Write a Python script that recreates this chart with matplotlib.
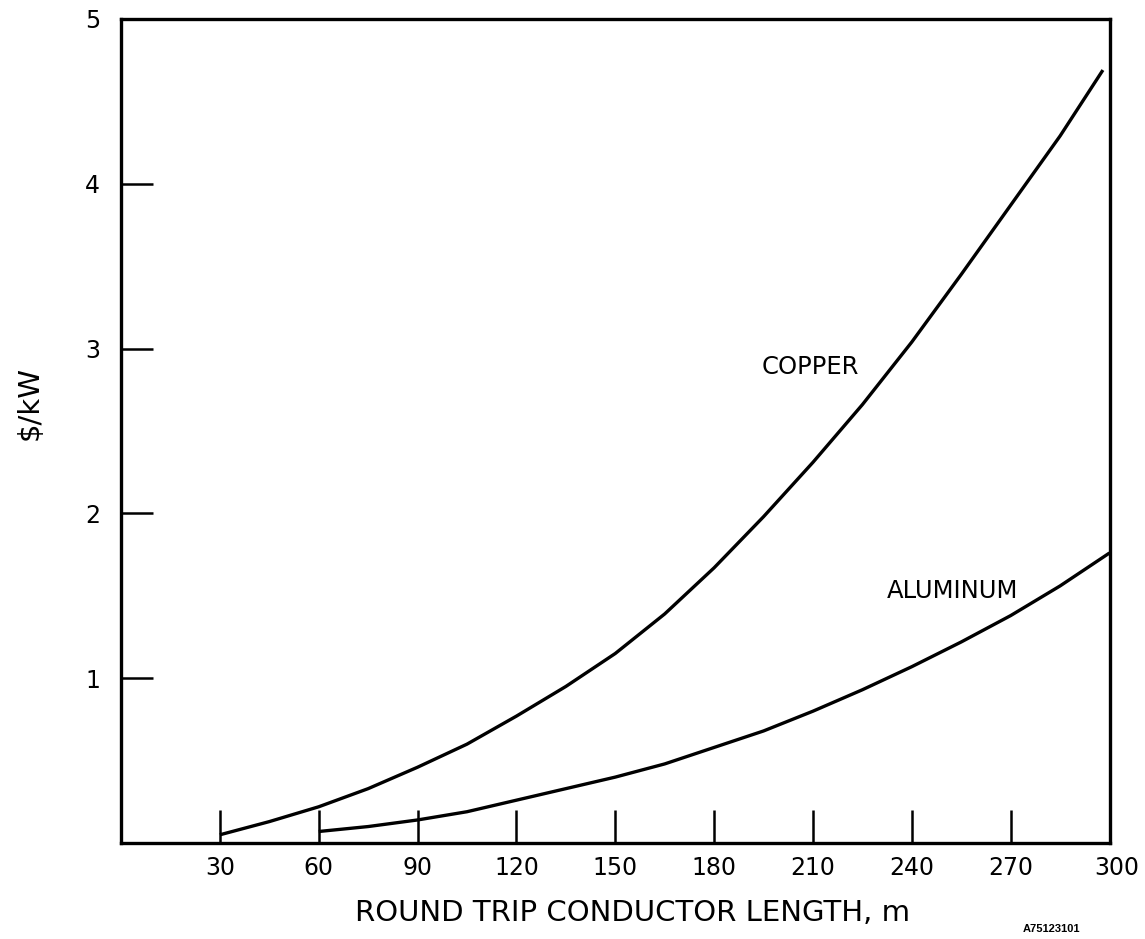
import matplotlib
matplotlib.use("Agg")
import matplotlib.pyplot as plt
from matplotlib.transforms import ScaledTranslation

# Data
copper_x = [30, 45, 60, 75, 90, 105, 120, 135, 150, 165, 180, 195, 210, 225, 240, 255, 270, 285, 298]
copper_y = [0.05, 0.13, 0.22, 0.33, 0.46, 0.60, 0.77, 0.95, 1.15, 1.39, 1.67, 1.98, 2.31, 2.66, 3.04, 3.45, 3.87, 4.29, 4.69]

aluminum_x = [60, 75, 90, 105, 120, 135, 150, 165, 180, 195, 210, 225, 240, 255, 270, 285, 300]
aluminum_y = [0.07, 0.10, 0.14, 0.19, 0.26, 0.33, 0.40, 0.48, 0.58, 0.68, 0.80, 0.93, 1.07, 1.22, 1.38, 1.56, 1.76]

x_ticks = [30, 60, 90, 120, 150, 180, 210, 240, 270, 300]
y_ticks = [1, 2, 3, 4, 5]

plt.rcParams['font.family'] = ['DejaVu Sans']

fig = plt.figure(figsize=(11.45, 9.39), dpi=100)
ax = fig.add_axes([0.1057, 0.1022, 0.969 - 0.1057, 0.9798 - 0.1022])

ax.plot(copper_x, copper_y, color='black', lw=2.4, solid_capstyle='butt')
ax.plot(aluminum_x, aluminum_y, color='black', lw=2.4, solid_capstyle='butt')

ax.set_xlim(0, 300)
ax.set_ylim(0, 5)

ax.set_xticks(x_ticks)
ax.set_xticklabels([str(v) for v in x_ticks], fontsize=17)
ax.set_yticks(y_ticks)
ax.set_yticklabels([str(v) for v in y_ticks], fontsize=17)

ax.tick_params(axis='x', direction='in', length=23.5, width=1.8, pad=9, color='black')
ax.tick_params(axis='y', direction='in', length=23, width=1.8, pad=15, color='black')

# the "300" label sits slightly right of the spine in the reference
last = ax.get_xticklabels()[-1]
last.set_transform(last.get_transform() + ScaledTranslation(0.07, 0, fig.dpi_scale_trans))

for s in ax.spines.values():
    s.set_linewidth(2.4)
    s.set_color('black')

ax.set_xlabel('ROUND TRIP CONDUCTOR LENGTH, m', fontsize=21, labelpad=14)
ax.xaxis.label.set_x(0.517)
fig.text(30 / 1145, 1 - 403 / 939, '$/kW', fontsize=21, rotation=90,
         ha='center', va='center')

ax.text(209.3, 2.89, 'COPPER', fontsize=17.5, ha='center', va='center')
ax.text(252.3, 1.53, 'ALUMINUM', fontsize=17.5, ha='center', va='center')

fig.text(1051 / 1145, 1 - 929 / 939, 'A75123101', fontsize=8, ha='center', va='center',
         fontweight='bold', family=['Liberation Sans', 'DejaVu Sans'])

fig.savefig('out.png', dpi=100, facecolor='white')
